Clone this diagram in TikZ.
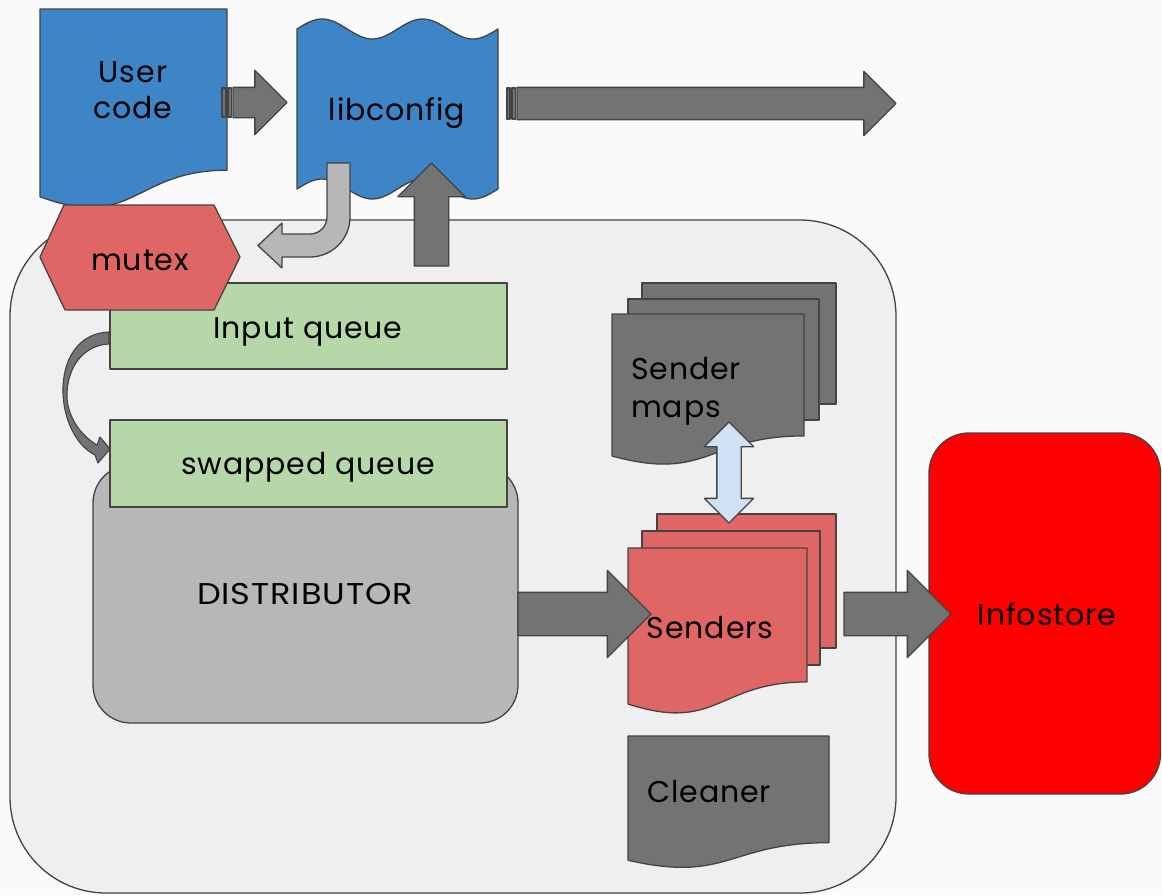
\documentclass[tikz,border=0pt]{standalone}
\usepackage{fontspec}
\setmainfont{Poppins}[LetterSpace=3]
\newfontfamily\widecaps{Poppins}[LetterSpace=3, FakeStretch=1.12]
\usetikzlibrary{shapes.arrows}

\definecolor{bgpage}{HTML}{FAFAFA}
\definecolor{panel}{HTML}{EFEFEF}
\definecolor{edge}{HTML}{434343}
\definecolor{docblue}{HTML}{3D85C6}
\definecolor{softred}{HTML}{E06666}
\definecolor{queuegreen}{HTML}{B6D7A8}
\definecolor{midgray}{HTML}{B7B7B7}
\definecolor{darkgray}{HTML}{737373}
\definecolor{paleblue}{HTML}{CFE2F3}
\definecolor{storered}{HTML}{FF0000}

\tikzset{
  shapeline/.style={draw=edge, line width=1.3pt, line join=round},
  lbl/.style={font=\fontsize{30}{36}\selectfont, text=black, inner sep=0pt},
  % horizontal block arrow: the shaft width is twice the inner ysep
  blockarrow/.style={single arrow, shapeline, fill=darkgray, inner xsep=0pt,
    outer sep=0pt, single arrow tip angle=90, anchor=tail},
}

% document shape: fill, x, top y, width, height (y measured downwards)
\newcommand{\docshape}[5]{%
  \draw[shapeline, fill=#1] (#2,-#3) -- ({#2+#4},-#3) -- ({#2+#4},{-(#3+0.802*#5)})
    .. controls ({#2+0.5*#4},{-(#3+0.802*#5)}) and ({#2+0.5*#4},{-(#3+1.1075*#5)})
    .. (#2,{-(#3+0.934*#5)}) -- cycle;}

\begin{document}
\begin{tikzpicture}[x=1pt, y=1pt]
% page
\fill[bgpage] (0,0) rectangle (1162,-895);
\useasboundingbox (0,0) rectangle (1162,-895);

% process container
\draw[shapeline, fill=panel, rounded corners=96pt] (10,-220) rectangle (896,-893);

% user code and libconfig
\docshape{docblue}{40}{9}{187}{201}
\draw[shapeline, fill=docblue]
  plot[domain=297:498, samples=80, variable=\x] (\x, {-(29-10*sin(3.5821*(\x-297)))})
  -- plot[domain=498:297, samples=80, variable=\x] (\x, {-(189-10*sin(3.5821*(\x-297)))})
  -- cycle;
\node[lbl, anchor=base] (user1) at (133,-82) {User};
\node[lbl, anchor=base] (user2) at (133,-118) {code};
\node[lbl, anchor=base] (libcfg) at (397,-120) {libconfig};

% striped arrows
\draw[shapeline, fill=darkgray] (222,-88) rectangle (226,-117);
\draw[shapeline, fill=darkgray] (228,-88) rectangle (231.5,-117);
\node[blockarrow, inner ysep=14.5pt, minimum height=54, single arrow head extend=17] (a-user) at (233,-102.5) {};
\draw[shapeline, fill=darkgray] (507,-88) rectangle (510,-119);
\draw[shapeline, fill=darkgray] (512,-88) rectangle (515.5,-119);
\node[blockarrow, inner ysep=15.5pt, minimum height=379, single arrow head extend=16] (a-out) at (517,-103.5) {};

% queues and distributor
\draw[shapeline, fill=queuegreen] (110,-283) rectangle (507,-369);
\node[lbl, anchor=base] (inq) at (308,-338) {Input queue};
\draw[shapeline, fill=midgray, rounded corners=38pt] (93,-465) rectangle (518,-723);
\draw[shapeline, fill=queuegreen] (110,-420) rectangle (507,-507);
\node[lbl, anchor=base] (swq) at (308,-474) {swapped queue};
\node[lbl, anchor=base, font=\fontsize{30}{36}\widecaps] (dist) at (305,-604) {DISTRIBUTOR};

% mutex
\draw[shapeline, fill=softred] (40,-257) -- (64,-205) -- (214,-205) -- (240,-257) -- (214,-310) -- (65,-310) -- cycle;
\node[lbl, anchor=base] (mutex) at (140,-270) {mutex};

% libconfig -> mutex (bent arrow)
\draw[shapeline, fill=midgray] (327,-163) -- (350,-163) -- (350,-217)
  arc[start angle=0, end angle=-90, radius=40] -- (282,-257) -- (282,-268) -- (258,-245.5)
  -- (282,-223) -- (282,-234) -- (310,-234) arc[start angle=-90, end angle=0, radius=17] -- cycle;
% container -> libconfig
\node[blockarrow, inner sep=16.5pt, shape border rotate=90, minimum height=103, single arrow head extend=16.5] (a-up) at (431.5,-266) {};

% input queue -> swapped queue (curved arrow)
\draw[shapeline, line width=1.1pt, fill=darkgray] (109,-332) .. controls (78,-333) and (62,-360) .. (63,-393)
  .. controls (64,-425) and (80,-448) .. (95,-455) -- (98,-463) -- (110,-449) -- (100,-437) -- (97,-445)
  .. controls (80,-435) and (66,-415) .. (67,-393) .. controls (68,-365) and (85,-345) .. (109,-344) -- cycle;

% sender maps
\draw[shapeline, fill=darkgray] (642,-283) rectangle (836,-404);
\draw[shapeline, fill=darkgray] (628,-299) rectangle (819,-420);
\docshape{darkgray}{612}{314}{192}{152}
\node[lbl, anchor=base west] (smap1) at (631,-379) {Sender};
\node[lbl, anchor=base west] (smap2) at (631,-417) {maps};

% senders
\draw[shapeline, fill=softred] (657,-514) rectangle (836,-648);
\draw[shapeline, fill=softred] (642,-531) rectangle (820,-665);
\docshape{softred}{628}{548}{179}{167}
\node[lbl, anchor=base] (senders) at (710,-638) {Senders};

% sender maps <-> senders
\node[double arrow, shapeline, fill=paleblue, inner sep=11.5pt, outer sep=0pt, double arrow tip angle=90,
  shape border rotate=90, minimum height=101, double arrow head extend=12.5] (a-maps) at (729,-472.5) {};

% cleaner
\docshape{darkgray}{628}{736}{201}{133}
\node[lbl, anchor=base west] (cleaner) at (647,-802) {Cleaner};

% infostore
\draw[shapeline, fill=storered, rounded corners=40pt] (929,-433) rectangle (1160.5,-794);
\node[lbl, anchor=base] (info) at (1047,-625) {Infostore};

% data flow to senders and infostore
\node[blockarrow, inner ysep=21pt, minimum height=133, single arrow head extend=22] (a-dist) at (518,-614) {};
\node[blockarrow, inner ysep=21pt, minimum height=107, single arrow head extend=22] (a-info) at (844,-614) {};
\end{tikzpicture}
\end{document}
